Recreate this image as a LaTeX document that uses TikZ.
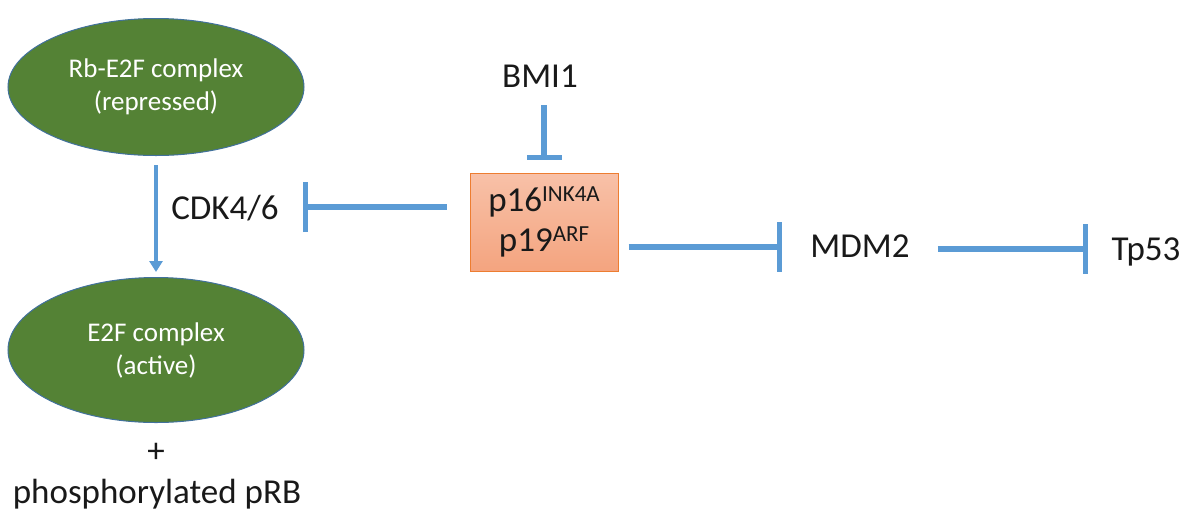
\documentclass[tikz,border=0pt]{standalone}
\usepackage{fontspec}
\setmainfont{Carlito}
\usetikzlibrary{shapes.geometric,arrows.meta}
\definecolor{leaf}{HTML}{548235}
\definecolor{edgeblue}{HTML}{41719C}
\definecolor{link}{HTML}{5B9BD5}
\definecolor{boxtop}{HTML}{F8C1A8}
\definecolor{boxbot}{HTML}{F4A47F}
\definecolor{boxedge}{HTML}{ED7D31}
\newcommand{\supx}[1]{\raisebox{10pt}{\fontsize{23}{23}\selectfont #1}}
\begin{document}
\begin{tikzpicture}[x=1pt,y=-1pt,
  complex/.style={ellipse, fill=leaf, draw=edgeblue, line width=1pt,
    minimum width=296pt, inner sep=0pt, text=white,
    font=\fontsize{27}{33}\selectfont, align=center},
  plain/.style={font=\fontsize{35}{40}\selectfont, inner sep=0pt, text=black!90},
  inh/.style={draw=link, line width=6pt, -{Bar[width=50pt,line width=5pt]}},
  inhsmall/.style={draw=link, line width=6pt, -{Bar[width=35pt,line width=5pt]}},
  act/.style={draw=link, line width=4pt, -{Triangle[width=13pt,length=11pt]}},
  genebox/.style={draw=boxedge, line width=1pt, top color=boxtop, bottom color=boxbot,
    minimum width=148pt, minimum height=98pt, inner sep=0pt, align=center,
    font=\fontsize{35}{40}\selectfont, text=black!90},
]
\useasboundingbox (0,0) rectangle (1190,512);

\node[complex, minimum height=137pt] (rb) at (156,87) {Rb-E2F complex\\(repressed)};
\node[complex, minimum height=145pt] (e2f) at (156,350) {E2F complex\\(active)};
\node[plain, anchor=base] (cdk) at (225,219) {CDK4/6};
\node[plain] (plus) at (156,453) {+};
\node[plain, anchor=base] (phos) at (157,503) {phosphorylated pRB};
\node[plain, anchor=base] (bmi) at (540,87) {BMI1};
\node[genebox] (box) at (544,222) {p16\supx{INK4A}\\p19\supx{ARF}};
\node[plain, anchor=base] (mdm) at (860,257) {MDM2};
\node[plain, anchor=base] (tp) at (1146,260) {Tp53};

\draw[act, shorten <=9pt, shorten >=5pt] (rb.south) -- (e2f.north);
\draw[inhsmall, shorten <=18pt, shorten >=13pt] (bmi.base -| box.north) -- (box.north);

\coordinate (lstart) at ([yshift=15pt]box.west);
\draw[inh, shorten <=23pt, shorten >=24pt] (lstart) -- (lstart -| cdk.east);

\coordinate (rstart) at ([yshift=-25pt]box.east);
\draw[inh, shorten <=10pt, shorten >=28pt] (rstart) -- (rstart -| mdm.west);

\coordinate (tpline) at ([yshift=11pt]tp.base west);
\draw[inh, shorten <=28pt, shorten >=23pt] (tpline -| mdm.east) -- (tpline);
\end{tikzpicture}
\end{document}
